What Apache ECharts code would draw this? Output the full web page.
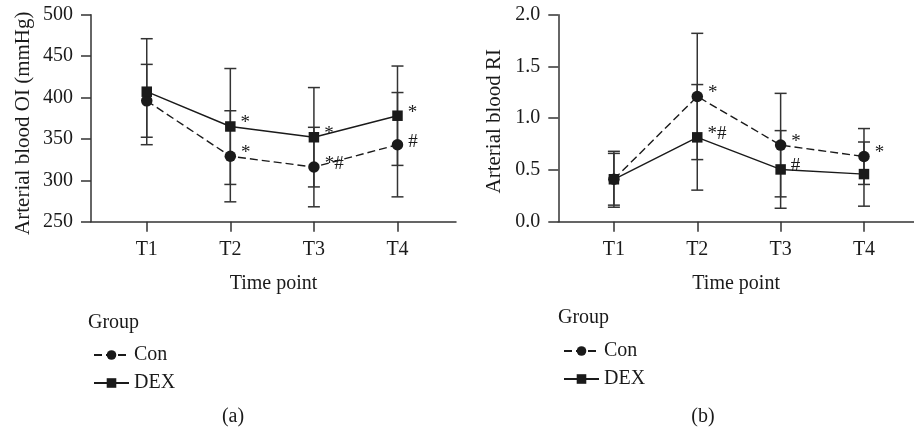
<!DOCTYPE html>
<html>
<head>
<meta charset="utf-8">
<script src="https://cdn.jsdelivr.net/npm/echarts@6/dist/echarts.min.js"></script>
<style>
html,body{margin:0;padding:0;background:#fff;}
#chart{width:914px;height:430px;}
</style>
</head>
<body>
<div id="chart"></div>
<script>
// ---- data ----
const categories = ['T1', 'T2', 'T3', 'T4'];
const oiConMean = [396, 329, 316, 343];
const oiConSD = [44, 55, 48, 63];
const oiDexMean = [407, 365, 352, 378];
const oiDexSD = [64, 70, 60, 60];
const oiConMarks = ['', '*', '*#', '#'];
const oiDexMarks = ['', '*', '*', '*'];
const riConMean = [0.41, 1.21, 0.74, 0.63];
const riConSD = [0.27, 0.61, 0.50, 0.27];
const riDexMean = [0.41, 0.815, 0.505, 0.46];
const riDexSD = [0.25, 0.51, 0.375, 0.31];
const riConMarks = ['', '*', '*', '*'];
const riDexMarks = ['', '*#', '#', ''];
const groupNames = ['Con', 'DEX'];
const legendTitle = 'Group';
const panelLabels = ['(a)', '(b)'];
const xName = 'Time point';
const yNames = ['Arterial blood OI (mmHg)', 'Arterial blood RI'];

// ---- styling ----
const FONT = 'Liberation Serif';
const INK = '#1a1a1a';
const AXIS = '#333';
const catPos = categories.map((c, i) => i + 1);

function pts(mean) { return mean.map((v, i) => [catPos[i], v]); }
function bars(mean, sd) { return mean.map((v, i) => [catPos[i], v - sd[i], v + sd[i]]); }

function errRender(params, api) {
  const x = api.value(0);
  const lo = api.coord([x, api.value(1)]);
  const hi = api.coord([x, api.value(2)]);
  const w = 6;
  const st = { stroke: '#333', lineWidth: 1.5 };
  return {
    type: 'group',
    children: [
      { type: 'line', shape: { x1: hi[0], y1: hi[1], x2: lo[0], y2: lo[1] }, style: st },
      { type: 'line', shape: { x1: hi[0] - w, y1: hi[1], x2: hi[0] + w, y2: hi[1] }, style: st },
      { type: 'line', shape: { x1: lo[0] - w, y1: lo[1], x2: lo[0] + w, y2: lo[1] }, style: st }
    ]
  };
}

function lineSeries(name, idx, mean, marks, dashed) {
  return {
    type: 'line', name: name, xAxisIndex: idx, yAxisIndex: idx,
    data: pts(mean), z: 5,
    symbol: dashed ? 'circle' : 'rect',
    symbolSize: dashed ? 11.5 : 10.5,
    itemStyle: { color: INK },
    lineStyle: { color: INK, width: 1.4, type: dashed ? [8, 4] : 'solid' },
    label: {
      show: true, position: 'right', offset: [0, -3],
      formatter: p => marks[p.dataIndex],
      fontFamily: FONT, fontSize: 19, color: INK
    },
    animation: false
  };
}
function errSeries(name, idx, mean, sd) {
  return {
    type: 'custom', name: name, xAxisIndex: idx, yAxisIndex: idx,
    data: bars(mean, sd), renderItem: errRender,
    encode: { x: 0, y: [1, 2] }, z: 3, animation: false, silent: true
  };
}

function xAxis(idx, max) {
  return {
    type: 'value', gridIndex: idx, min: 0.333, max: max,
    name: xName, nameLocation: 'middle', nameGap: 52,
    nameTextStyle: { fontFamily: FONT, fontSize: 20, color: INK },
    axisLine: { show: true, lineStyle: { color: AXIS, width: 1.5 } },
    axisTick: { show: true, length: 10, customValues: catPos, lineStyle: { color: AXIS, width: 1.5 } },
    axisLabel: {
      customValues: catPos, margin: 18,
      formatter: v => categories[Math.round(v) - 1] || '',
      fontFamily: FONT, fontSize: 20, color: INK
    },
    splitLine: { show: false }
  };
}
function yAxis(idx, min, max, interval, name, gap, dec, pad) {
  return {
    type: 'value', gridIndex: idx, min: min, max: max, interval: interval,
    name: name, nameLocation: 'middle', nameGap: gap,
    nameTextStyle: { fontFamily: FONT, fontSize: 21, color: INK, padding: [0, pad, 0, 0] },
    axisLine: { show: true, lineStyle: { color: AXIS, width: 1.5 } },
    axisTick: { show: true, length: 10, lineStyle: { color: AXIS, width: 1.5 } },
    axisLabel: {
      margin: 18, fontFamily: FONT, fontSize: 20, color: INK,
      formatter: v => v.toFixed(dec)
    },
    splitLine: { show: false }
  };
}

function legend(left, top) {
  return {
    orient: 'vertical', left: left, top: top,
    data: groupNames, itemWidth: 35, itemHeight: 12, itemGap: 8,
    selectedMode: false,
    textStyle: { fontFamily: FONT, fontSize: 20, color: INK, lineHeight: 20 }
  };
}

function txt(text, x, y, align) {
  return {
    type: 'text', x: x, y: y,
    style: { text: text, fontFamily: FONT, fontSize: 20, fill: INK,
             textAlign: align, textVerticalAlign: 'middle' }
  };
}

const chart = echarts.init(document.getElementById('chart'), null, { renderer: 'canvas' });
chart.setOption({
  animation: false,
  backgroundColor: '#fff',
  grid: [
    { left: 91, top: 14.7, right: 458, bottom: 208.3 },
    { left: 558.3, top: 14.7, right: 0, bottom: 208.3 }
  ],
  xAxis: [xAxis(0, 4.70), xAxis(1, 4.60)],
  yAxis: [
    yAxis(0, 250, 500, 50, yNames[0], 57, 0, 10),
    yAxis(1, 0, 2, 0.5, yNames[1], 53, 1, 6)
  ],
  legend: [legend(88, 340), legend(558, 336)],
  graphic: [
    txt(legendTitle, 88, 323, 'left'),
    txt(legendTitle, 558, 318, 'left'),
    txt(panelLabels[0], 233, 417, 'center'),
    txt(panelLabels[1], 703, 417, 'center')
  ],
  series: [
    errSeries('Con SD a', 0, oiConMean, oiConSD),
    errSeries('DEX SD a', 0, oiDexMean, oiDexSD),
    lineSeries(groupNames[0], 0, oiConMean, oiConMarks, true),
    lineSeries(groupNames[1], 0, oiDexMean, oiDexMarks, false),
    errSeries('Con SD b', 1, riConMean, riConSD),
    errSeries('DEX SD b', 1, riDexMean, riDexSD),
    lineSeries(groupNames[0], 1, riConMean, riConMarks, true),
    lineSeries(groupNames[1], 1, riDexMean, riDexMarks, false)
  ]
});
</script>
</body>
</html>
